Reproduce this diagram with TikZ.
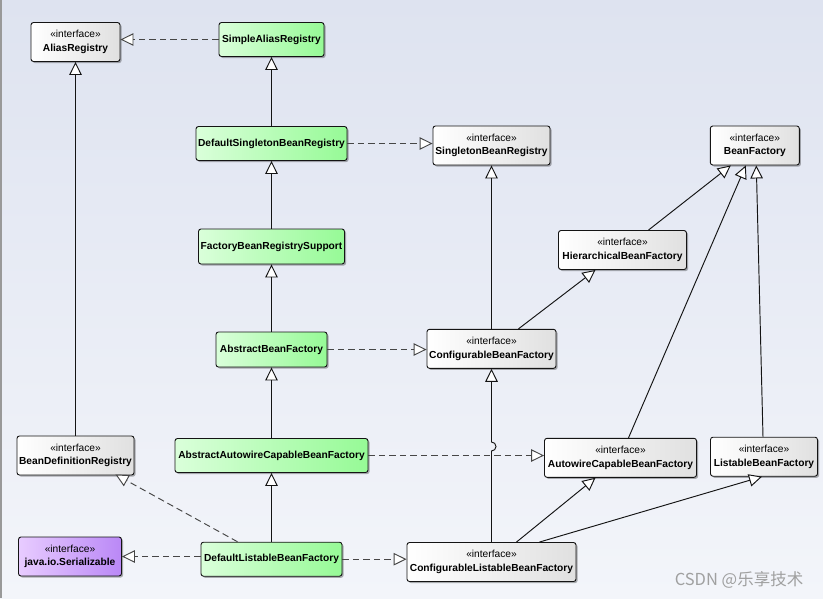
\documentclass[tikz,border=0pt]{standalone}
\usepackage{fontspec}
\setmainfont{Liberation Sans}
\newfontfamily\cjkfont{Noto Sans CJK SC}
\usetikzlibrary{arrows.meta,shadows,calc}
\definecolor{bgtop}{RGB}{222,227,240}
\definecolor{bgbot}{RGB}{243,245,250}
\definecolor{gl}{RGB}{218,255,218}
\definecolor{gr}{RGB}{150,250,150}
\definecolor{il}{RGB}{255,255,255}
\definecolor{ir}{RGB}{224,224,224}
\definecolor{pl}{RGB}{232,204,255}
\definecolor{pr}{RGB}{186,136,246}
\definecolor{dashcol}{RGB}{70,70,70}
\definecolor{wmcol}{RGB}{160,160,160}
\definecolor{edgecol}{RGB}{20,20,20}
\tikzset{
  umlbox/.style={draw=edgecol, line width=0.9pt, rounded corners=2.5pt, inner sep=0pt, align=center,
    font=\fontsize{10.2}{13.5}\selectfont\bfseries,
    drop shadow={shadow xshift=1.6pt, shadow yshift=-1.6pt, opacity=0.3, fill=black}},
  clsbox/.style={umlbox, left color=gl, right color=gr},
  ifbox/.style={umlbox, left color=il, right color=ir},
  serbox/.style={umlbox, left color=pl, right color=pr},
  gen/.style={-{Triangle[length=13pt,width=12.5pt,fill=white]}, line width=0.95pt, draw=edgecol},
  realz/.style={gen, draw=dashcol, dash pattern=on 6.5pt off 4pt},
}
\newcommand{\iface}[1]{{\mdseries «interface»}\\#1}
\begin{document}
\begin{tikzpicture}[x=1pt,y=-1pt]
\useasboundingbox (0,0) rectangle (823,598);
\fill[top color=bgtop, bottom color=bgbot] (0,0) rectangle (823,598);
\fill[gray!80] (0,0) rectangle (1.5,598);

% nodes
\node[ifbox, minimum width=89pt, minimum height=39pt] (ar) at (75.5,42) {\iface{AliasRegistry}};
\node[clsbox, minimum width=105pt, minimum height=34pt] (sar) at (271.5,39.5) {SimpleAliasRegistry};
\node[clsbox, minimum width=151pt, minimum height=34pt] (dsbr) at (271.5,143.5) {DefaultSingletonBeanRegistry};
\node[ifbox, minimum width=117pt, minimum height=39pt] (sbr) at (491.5,145.5) {\iface{SingletonBeanRegistry}};
\node[ifbox, minimum width=89pt, minimum height=39pt] (bf) at (754.8,145.5) {\iface{BeanFactory}};
\node[ifbox, minimum width=128pt, minimum height=39pt] (hbf) at (622.5,250) {\iface{HierarchicalBeanFactory}};
\node[clsbox, minimum width=146pt, minimum height=35pt] (fbrs) at (271.5,246.5) {FactoryBeanRegistrySupport};
\node[clsbox, minimum width=111pt, minimum height=35pt] (abf) at (271.5,349.5) {AbstractBeanFactory};
\node[ifbox, minimum width=129pt, minimum height=39pt] (cbf) at (491.5,348.8) {\iface{ConfigurableBeanFactory}};
\node[ifbox, minimum width=117pt, minimum height=39pt] (bdr) at (75.5,455.5) {\iface{BeanDefinitionRegistry}};
\node[clsbox, minimum width=193pt, minimum height=34pt] (aacbf) at (271.5,455.5) {AbstractAutowireCapableBeanFactory};
\node[ifbox, minimum width=152pt, minimum height=39pt] (acbf) at (620.5,457.8) {\iface{AutowireCapableBeanFactory}};
\node[ifbox, minimum width=107pt, minimum height=39pt] (lbf) at (764,456.7) {\iface{ListableBeanFactory}};
\node[serbox, minimum width=103pt, minimum height=39pt] (ser) at (70,556.5) {\iface{java.io.Serializable}};
\node[clsbox, minimum width=141pt, minimum height=34pt] (dlbf) at (271.5,559.2) {DefaultListableBeanFactory};
\node[ifbox, minimum width=169pt, minimum height=39pt] (clbf) at (491.5,562) {\iface{ConfigurableListableBeanFactory}};

\node[font=\cjkfont\fontsize{16.5}{18}\selectfont, text=wmcol, inner sep=0pt] (wm) at (739,580) {CSDN @乐享技术};

% generalizations (solid)
\draw[gen] (dsbr.north) -- (sar.south);
\draw[gen] (fbrs.north) -- (dsbr.south);
\draw[gen] (abf.north) -- (fbrs.south);
\draw[gen] (aacbf.north) -- (abf.south);
\draw[gen] (dlbf.north) -- (aacbf.south);
\draw[gen] (bdr.north) -- (ar.south);
\draw[gen] (cbf.north) -- (sbr.south);
\draw[gen] ([xshift=27pt]cbf.north) -- ([xshift=-27pt]hbf.south);
\draw[gen] ([xshift=26pt]hbf.north) -- ([xshift=-24pt]bf.south);
\draw[gen] ([xshift=8pt]acbf.north) -- ([xshift=-9pt]bf.south);
\draw[gen] ([xshift=-1pt]lbf.north) -- ([xshift=1.5pt]bf.south);
\draw[gen] ([xshift=25pt]clbf.north) -- ([xshift=-25pt]acbf.south);
\draw[gen] ([xshift=48pt]clbf.north) -- ([xshift=-2pt]lbf.south);
\coordinate (hop) at (clbf.north |- aacbf.east);
\draw[gen] (clbf.north) -- ([yshift=4.5pt]hop) arc[start angle=-90, end angle=90, radius=4.5pt] -- (cbf.south);

% realizations (dashed)
\draw[realz] (sar.west) -- (sar.west -| ar.east);
\draw[realz] (dsbr.east) -- (dsbr.east -| sbr.west);
\draw[realz] (abf.east) -- (abf.east -| cbf.west);
\draw[realz] (aacbf.east) -- (aacbf.east -| acbf.west);
\draw[realz] ([xshift=-34pt]dlbf.north) -- ([xshift=40pt,yshift=1pt]bdr.south);
\draw[realz] (ser.east -| dlbf.west) -- (ser.east);
\draw[realz] (dlbf.east) -- (dlbf.east -| clbf.west);
\end{tikzpicture}
\end{document}
